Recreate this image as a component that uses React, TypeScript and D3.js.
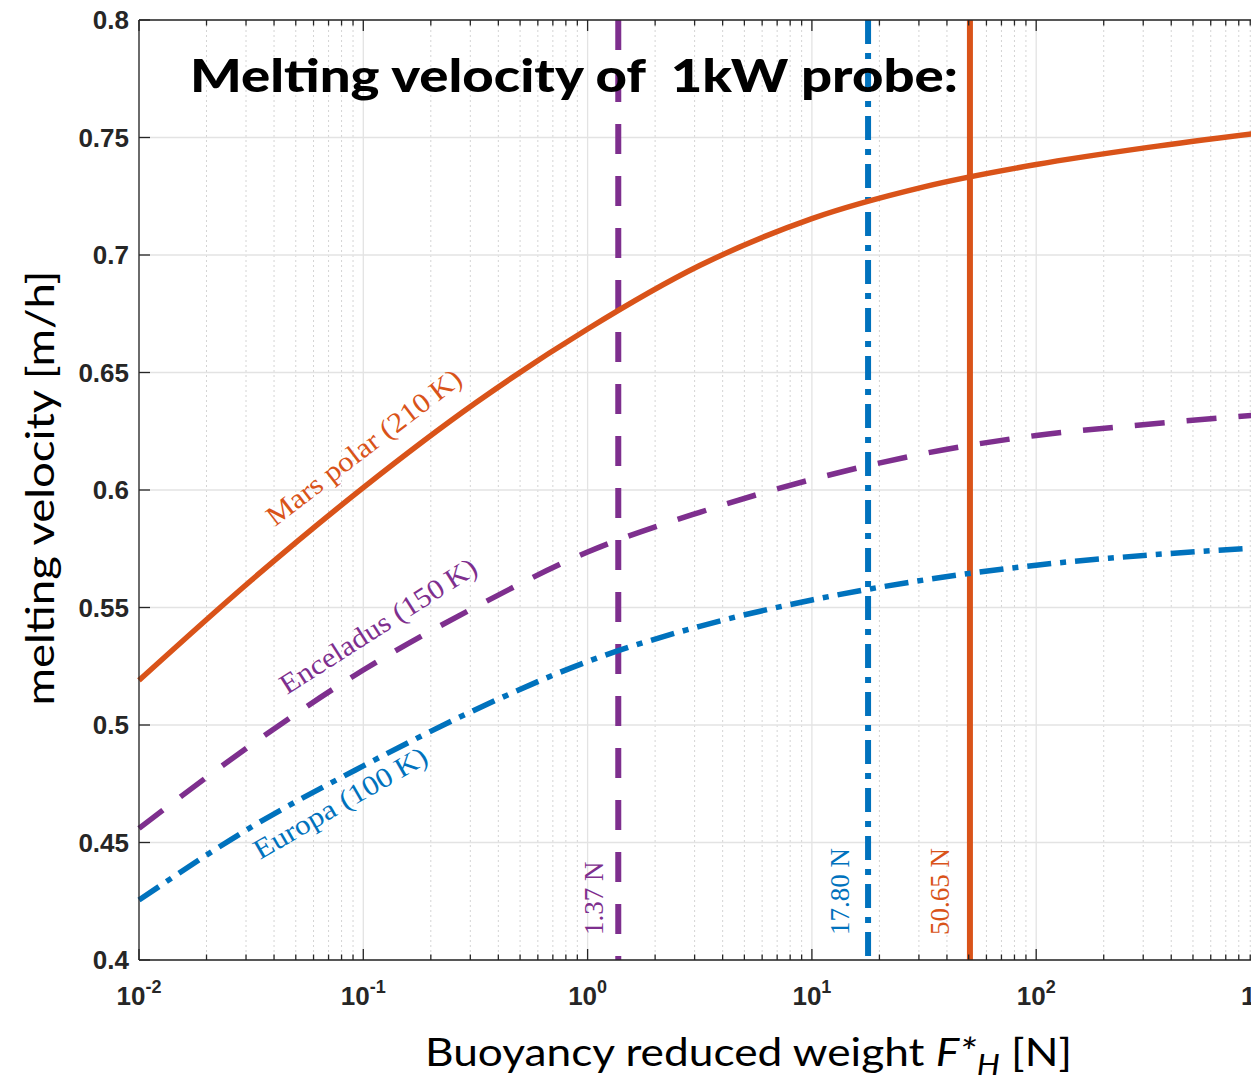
import React, { useEffect } from "react";
import * as d3 from "d3";

const forceKnots = [0.01, 0.0316, 0.1, 0.316, 1, 3.16, 10, 31.6, 100, 316, 1000];
const marsValues = [0.519, 0.5615, 0.601, 0.637, 0.6685, 0.6955, 0.7155, 0.729, 0.7385, 0.7458, 0.752];
const enceladusValues = [0.456, 0.4915, 0.5234, 0.5502, 0.5736, 0.5905, 0.6045, 0.6155, 0.6232, 0.628, 0.632];
const europaValues = [0.4255, 0.4565, 0.4826, 0.5065, 0.527, 0.542, 0.5532, 0.5617, 0.568, 0.5723, 0.5755];

const thresholdForces = [1.37, 17.8, 50.65];
const thresholdLabels = ["1.37 N", "17.80 N", "50.65 N"];
const curveLabels = ["Mars polar (210\u2009K)", "Enceladus (150\u2009K)", "Europa (100\u2009K)"];
const yTicks = [0.4, 0.45, 0.5, 0.55, 0.6, 0.65, 0.7, 0.75, 0.8];
const yTickLabels = ["0.4", "0.45", "0.5", "0.55", "0.6", "0.65", "0.7", "0.75", "0.8"];
const xDecades = [-2, -1, 0, 1, 2, 3];

const ORANGE = "#D95319";
const PURPLE = "#7E2F8E";
const BLUE = "#0072BD";
const AXIS = "#262626";

const W = 1251;
const H = 1086;
const L = 139, R = 1260.5, T = 20, B = 960;

export default function App() {
  useEffect(() => {
    document.body.style.margin = "0";
  }, []);

  const x = d3.scaleLog().domain([1e-2, 1e3]).range([L, R]);
  const y = d3.scaleLinear().domain([0.4, 0.8]).range([B, T]);

  const mk = (vals: number[]) =>
    d3
      .line<number>()
      .x((_, i) => x(forceKnots[i]))
      .y((v) => y(v))
      .curve(d3.curveMonotoneX)(vals) || "";

  const minorX: number[] = [];
  for (let e = -2; e < 3; e++) {
    for (let k = 2; k <= 9; k++) minorX.push(k * Math.pow(10, e));
  }

  const series = [
    { vals: marsValues, color: ORANGE, dash: "none" },
    { vals: enceladusValues, color: PURPLE, dash: "30,22" },
    { vals: europaValues, color: BLUE, dash: "24,9,6,9" },
  ];
  const vColors = [PURPLE, BLUE, ORANGE];
  const vDash = ["30,22", "24,9,6,9", "none"];

  const labelPos = [
    { x: 275, y: 527, angle: -37.5, len: 238 },
    { x: 287, y: 695, angle: -32.5, len: 228 },
    { x: 260, y: 860, angle: -30, len: 196 },
  ];
  const labelColors = [ORANGE, PURPLE, BLUE];
  const vLabelX = [603, 849, 949];

  return (
    <svg width={W} height={H} style={{ position: "absolute", left: 0, top: 0, background: "#fff" }}>
      <rect x={0} y={0} width={W} height={H} fill="#fff" />
      {minorX.map((v, i) => (
        <line key={"mg" + i} x1={x(v)} x2={x(v)} y1={T} y2={B} stroke="#d4d4d4" strokeWidth={1} strokeDasharray="2,3" />
      ))}
      {xDecades.map((e) => (
        <line key={"xg" + e} x1={x(Math.pow(10, e))} x2={x(Math.pow(10, e))} y1={T} y2={B} stroke="#e3e3e3" strokeWidth={1.3} />
      ))}
      {yTicks.map((v) => (
        <line key={"yg" + v} x1={L} x2={R} y1={y(v)} y2={y(v)} stroke="#e3e3e3" strokeWidth={1.3} />
      ))}

      {thresholdForces.map((f, i) => (
        <line key={"v" + i} x1={x(f)} x2={x(f)} y1={T} y2={B} stroke={vColors[i]} strokeWidth={6}
          strokeDasharray={vDash[i]} />
      ))}

      {series.map((s, i) => (
        <path key={"s" + i} d={mk(s.vals)} fill="none" stroke={s.color} strokeWidth={5.5}
          strokeDasharray={s.dash} />
      ))}

      <line x1={L} x2={R} y1={B} y2={B} stroke={AXIS} strokeWidth={1.3} />
      <line x1={L} x2={R} y1={T} y2={T} stroke={AXIS} strokeWidth={1.3} />
      <line x1={L} x2={L} y1={T} y2={B} stroke={AXIS} strokeWidth={1.3} />
      {yTicks.map((v) => (
        <line key={"yt" + v} x1={L} x2={L + 11} y1={y(v)} y2={y(v)} stroke={AXIS} strokeWidth={1.3} />
      ))}
      {xDecades.map((e) => (
        <g key={"xt" + e}>
          <line x1={x(Math.pow(10, e))} x2={x(Math.pow(10, e))} y1={B} y2={B - 11} stroke={AXIS} strokeWidth={1.3} />
          <line x1={x(Math.pow(10, e))} x2={x(Math.pow(10, e))} y1={T} y2={T + 11} stroke={AXIS} strokeWidth={1.3} />
        </g>
      ))}
      {minorX.map((v, i) => (
        <g key={"mt" + i}>
          <line x1={x(v)} x2={x(v)} y1={B} y2={B - 5.5} stroke={AXIS} strokeWidth={1.3} />
          <line x1={x(v)} x2={x(v)} y1={T} y2={T + 5.5} stroke={AXIS} strokeWidth={1.3} />
        </g>
      ))}

      {yTicks.map((v, i) => (
        <text key={"yl" + v} x={129} y={y(v) + 9} textAnchor="end" fontFamily="Liberation Sans, Arial, sans-serif"
          fontWeight="bold" fontSize={26} fill={AXIS}>
          {yTickLabels[i]}
        </text>
      ))}
      {xDecades.map((e) => (
        <text key={"xl" + e} x={x(Math.pow(10, e))} y={1005} textAnchor="middle"
          fontFamily="Liberation Sans, Arial, sans-serif" fontWeight="bold" fontSize={26} fill={AXIS}>
          10
          <tspan dy={-12} fontSize={18}>{String(e)}</tspan>
        </text>
      ))}

      {thresholdLabels.map((t, i) => (
        <text key={"tl" + i} transform={`translate(${vLabelX[i]},935) rotate(-90)`} fontFamily="Liberation Serif, serif"
          fontSize={27} fill={vColors[i]}>
          {t}
        </text>
      ))}

      {curveLabels.map((t, i) => (
        <text key={"cl" + i} transform={`translate(${labelPos[i].x},${labelPos[i].y}) rotate(${labelPos[i].angle})`}
          fontFamily="Liberation Serif, serif" fontSize={28} fill={labelColors[i]}
          textLength={labelPos[i].len} lengthAdjust="spacingAndGlyphs">
          {t}
        </text>
      ))}

      <text x={190} y={92} fontFamily="Lato, sans-serif" fontWeight={900} fontSize={46} fill="#000"
        textLength={768} lengthAdjust="spacingAndGlyphs">
        Melting velocity of {"\u00a0"}1kW probe:
      </text>

      <text x={425} y={1066} fontFamily="Lato, sans-serif" fontSize={38} fill="#000" textLength={647}
        lengthAdjust="spacingAndGlyphs">
        Buoyancy reduced weight <tspan fontStyle="italic">F*</tspan>
        <tspan fontStyle="italic" fontSize={28} dy={9}>H</tspan>
        <tspan dy={-9}> [N]</tspan>
      </text>
      <text transform="translate(54,488) rotate(-90)" textAnchor="middle" fontFamily="Lato, sans-serif" fontSize={38}
        fill="#000" textLength={435} lengthAdjust="spacingAndGlyphs">
        melting velocity [m/h]
      </text>
    </svg>
  );
}
